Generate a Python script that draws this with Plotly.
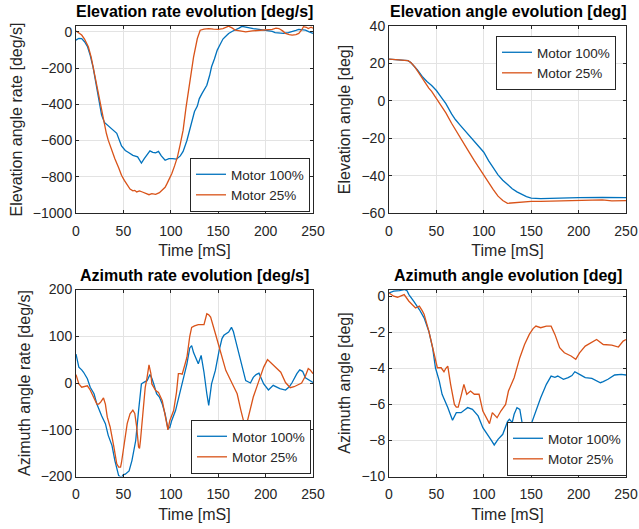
import plotly.graph_objects as go

# ---- data (time in mS) ----
# elevation rate [deg/s]
el_rate_t_100 = [0, 3, 6, 9, 12, 15, 18, 21, 24, 27, 30, 35, 38, 43, 48, 52, 55, 60, 65, 69, 72, 75, 78, 81, 84, 87,
                 90, 94, 98, 102, 106, 110, 113, 117, 121, 125, 128, 130, 133, 136, 138, 141, 143, 146, 149, 152, 155,
                 158, 161, 165, 168, 172, 175, 178, 182, 187, 193, 198, 203, 207, 210, 215, 219, 224, 228, 232, 235,
                 239, 242, 246, 250]
el_rate_100 = [-46, -36, -38, -55, -80, -130, -195, -280, -370, -460, -500, -522, -534, -560, -630, -655, -665, -682,
               -690, -724, -700, -681, -657, -665, -668, -660, -685, -709, -700, -700, -703, -685, -660, -600, -525,
               -440, -410, -370, -340, -310, -295, -240, -193, -150, -101, -70, -40, -25, -9, 3, 9, 20, 30, 26, 24,
               18, 13, 9, 9, 2, -5, -5, -9, -4, 0, 8, 13, 10, 9, 0, -9]
el_rate_t_25 = [0, 3, 6, 9, 13, 16, 18, 21, 24, 27, 29, 32, 34, 38, 41, 45, 48, 51, 54, 57, 60, 62, 64, 67, 70, 73, 77,
                80, 84, 88, 91, 94, 96, 99, 101, 104, 107, 110, 113, 116, 120, 124, 128, 131, 135, 140, 145, 150, 155,
                158, 161, 165, 168, 173, 179, 186, 193, 200, 207, 211, 214, 218, 221, 225, 228, 232, 235, 238, 240,
                243, 245, 248, 250]
el_rate_25 = [4, -5, -18, -40, -83, -140, -193, -275, -359, -440, -488, -560, -598, -660, -700, -750, -792, -820, -847,
              -868, -878, -875, -884, -878, -884, -890, -899, -893, -897, -888, -875, -858, -838, -810, -783, -740,
              -690, -620, -543, -420, -267, -140, -37, 9, 15, 18, 15, 13, 18, 25, 31, 20, 9, 5, 0, 5, 9, 10, 13, 20,
              18, 5, -9, -15, -18, -15, -9, 10, 28, 25, 18, 25, 20]

# elevation angle [deg]
el_ang_t_100 = [0, 5, 10, 15, 20, 23, 27, 30, 35, 40, 45, 48, 50, 55, 60, 66, 70, 75, 80, 84, 90, 95, 100, 105, 110,
                115, 120, 125, 130, 135, 140, 145, 150, 155, 160, 170, 180, 200, 225, 250]
el_ang_100 = [22.3, 22.2, 22, 21.8, 21.5, 20.5, 18.5, 16.5, 13, 10.3, 8.2, 6.5, 5.5, 2, -1.5, -7, -10, -13, -16, -18.5,
              -21.5, -25, -27.5, -32, -36, -39.6, -42.5, -45, -47, -48.7, -50, -51.2, -52, -52.2, -52.3, -52.2, -52,
              -51.8, -51.7, -51.8]
el_ang_t_25 = [0, 5, 10, 15, 20, 23, 27, 30, 35, 38, 42, 45, 48, 50, 55, 60, 66, 70, 75, 80, 84, 90, 95, 100, 105, 110,
               115, 120, 125, 130, 135, 140, 150, 160, 175, 190, 200, 215, 225, 235, 250]
el_ang_25 = [22.3, 22.2, 22, 21.8, 21.5, 20.5, 18.3, 16, 12, 9.6, 6.8, 5, 2.8, 1.5, -2.5, -6.5, -12, -15.5, -19.5, -24,
             -27, -32, -36, -40, -44, -47.5, -51, -53.3, -54.8, -54.6, -54.2, -54, -53.8, -53.8, -53.6, -53.4, -53.2,
             -53, -53, -53.5, -53.4]

# azimuth rate [deg/s]
az_rate_t_100 = [0, 3, 6, 8, 12, 15, 19, 22, 27, 31, 34, 38, 41, 45, 48, 50, 52, 56, 59, 63, 66, 69, 72, 75, 78, 80,
                 82, 85, 88, 91, 94, 97, 99, 101, 105, 108, 111, 113, 117, 120, 122, 124, 126, 129, 132, 135, 138, 140,
                 143, 147, 151, 154, 156, 161, 164, 166, 168, 173, 176, 179, 184, 187, 190, 193, 198, 203, 208, 212,
                 215, 221, 225, 228, 233, 236, 239, 242, 246, 250]
az_rate_100 = [62, 34, 28, 23, 9, -9, -23, -45, -70, -87, -112, -134, -166, -198, -202, -196, -195, -188, -166, -123,
               -59, -2, 2, 5, 18, 10, -2, -23, -30, -45, -66, -98, -95, -80, -59, -34, -10, 5, 41, 75, 80, 65, 55, 41,
               59, 23, -23, -48, -2, 27, 70, 95, 102, 109, 119, 110, 94, 52, 25, 5, 0, 12, 18, 21, -2, -15, -5, -10,
               -12, -15, -8, 1, 20, 28, 25, 11, 5, 1]
az_rate_t_25 = [0, 3, 6, 9, 12, 15, 17, 20, 22, 24, 26, 29, 31, 33, 36, 40, 43, 45, 47, 48, 50, 52, 54, 57, 60, 62, 64,
                66, 67, 68, 71, 73, 75, 77, 79, 80, 84, 87, 91, 94, 96, 97, 99, 103, 106, 108, 110, 112, 115, 117, 120,
                122, 125, 129, 135, 138, 140, 142, 147, 152, 158, 165, 170, 174, 178, 180, 182, 187, 193, 198, 202,
                205, 208, 212, 216, 221, 226, 230, 233, 238, 242, 245, 247, 250]
az_rate_25 = [18, -2, -9, -8, -6, -15, -23, -35, -45, -45, -41, -32, -45, -73, -94, -137, -173, -180, -180, -170, -144,
              -110, -87, -66, -58, -65, -94, -137, -140, -123, -45, -10, 12, 39, 20, -2, -16, -20, -38, -70, -94, -100,
              -80, -59, -20, 20, 20, 19, 40, 55, 100, 119, 122, 125, 125, 148, 146, 141, 106, 70, 27, -2, -23, -59,
              -91, -88, -73, -30, 5, 34, 50, 44, 37, 30, 23, 1, -10, -8, -5, 0, 15, 31, 28, 20]

# azimuth angle [deg]
az_ang_t_100 = [0, 5, 11, 16, 19, 21, 26, 29, 32, 37, 42, 46, 49, 53, 56, 62, 65, 67, 71, 76, 80, 83, 88, 94, 99, 104,
                108, 111, 115, 120, 125, 127, 130, 132, 135, 138, 141, 144, 147, 150, 155, 160, 166, 171, 175, 178,
                184, 189, 193, 196, 201, 207, 214, 219, 223, 226, 231, 238, 245, 250]
az_ang_100 = [0.18, 0.28, 0.31, 0.37, 0.3, 0.09, -0.28, -0.5, -0.74, -1.2, -1.94, -2.86, -3.97, -4.7, -5.44, -6.18,
              -6.6, -6.88, -6.46, -6.46, -6.3, -6.18, -6.28, -6.64, -7.29, -7.66, -8.0, -8.25, -7.94, -7.66, -6.96,
              -6.83, -7.0, -6.55, -6.18, -6.28, -7.2, -7.3, -7.25, -7.1, -6.37, -5.63, -4.89, -4.43, -4.5, -4.43,
              -4.61, -4.52, -4.4, -4.19, -4.34, -4.52, -4.56, -4.67, -4.8, -4.74, -4.61, -4.37, -4.34, -4.37]
az_ang_t_25 = [0, 5, 9, 13, 16, 21, 25, 28, 30, 32, 35, 37, 42, 48, 51, 55, 58, 60, 62, 65, 69, 71, 73, 76, 79, 82, 86,
               90, 95, 99, 102, 106, 109, 112, 114, 118, 123, 126, 129, 132, 138, 143, 148, 152, 155, 160, 166, 171,
               175, 180, 185, 192, 197, 201, 207, 214, 219, 226, 235, 242, 247, 250]
az_ang_25 = [0.18, 0.0, -0.06, 0.05, 0.09, -0.28, -0.5, -0.65, -0.6, -0.55, -0.8, -1.0, -1.94, -3.23, -3.97, -3.97,
             -4.19, -4.0, -3.88, -4.89, -6.0, -6.15, -6.15, -5.54, -4.89, -5.44, -5.26, -5.44, -5.44, -6.37, -6.64,
             -7.07, -6.46, -6.6, -6.74, -6.37, -6.0, -5.26, -4.9, -4.52, -3.41, -2.68, -2.12, -1.8, -1.66, -1.75,
             -1.66, -1.66, -2.12, -2.86, -3.14, -3.32, -3.5, -3.14, -2.77, -2.58, -2.4, -2.68, -2.71, -2.82, -2.49,
             -2.4]

BLUE = "#0072BD"
ORANGE = "#D95319"
INK = "#262626"
FONT = "Liberation Sans, Arial, sans-serif"

W, H = 639, 529
# plot boxes in pixels (left, right, top, bottom)
boxes = [(76, 313, 26, 213), (389, 626, 26, 213), (76, 313, 289.5, 476.5), (389, 626, 289.5, 476.5)]

panels = [
    ("Elevation rate evolution [deg/s]", "Elevation angle rate [deg/s]", [-1000, 32], 200,
     el_rate_t_100, el_rate_100, el_rate_t_25, el_rate_25),
    ("Elevation angle evolution [deg]", "Elevation angle [deg]", [-60, 40], 20,
     el_ang_t_100, el_ang_100, el_ang_t_25, el_ang_25),
    ("Azimuth rate evolution [deg/s]", "Azimuth angle rate [deg/s]", [-200, 200], 100,
     az_rate_t_100, az_rate_100, az_rate_t_25, az_rate_25),
    ("Azimuth angle evolution [deg]", "Azimuth angle [deg]", [-10, 0.37], 2,
     az_ang_t_100, az_ang_100, az_ang_t_25, az_ang_25),
]

# legend anchors (x, y, xanchor, yanchor) in pixels
legend_pos = [(310, 212, "right", "bottom"), (616, 36, "right", "top"),
              (311, 474, "right", "bottom"), (507, 476, "left", "bottom")]

fig = go.Figure()
layout = dict(width=W, height=H, margin=dict(l=0, r=0, t=0, b=0),
              paper_bgcolor="white", plot_bgcolor="white",
              font=dict(family=FONT, color=INK, size=14), annotations=[])

for i, (title, ylab, yr, dy, t1, v1, t2, v2) in enumerate(panels):
    n = "" if i == 0 else str(i + 1)
    lg = "legend" + n
    fig.add_trace(go.Scatter(x=t1, y=v1, mode="lines", name="Motor 100%", line=dict(color=BLUE, width=1.3),
                             xaxis="x" + n, yaxis="y" + n, legend=lg))
    fig.add_trace(go.Scatter(x=t2, y=v2, mode="lines", name="Motor 25%", line=dict(color=ORANGE, width=1.3),
                             xaxis="x" + n, yaxis="y" + n, legend=lg))
    l, r, t, b = boxes[i]
    axis_common = dict(showline=True, linecolor=INK, linewidth=1, mirror="ticks", ticks="inside", ticklen=3,
                       tickcolor=INK, showgrid=True, gridcolor="#e3e3e3", gridwidth=1, zeroline=False,
                       tickfont=dict(size=14, color=INK), automargin=False)
    layout["xaxis" + n] = dict(axis_common, domain=[l / W, r / W], range=[0, 250], dtick=50, tick0=0,
                               anchor="y" + n, ticklabelstandoff=5,
                               title=dict(text="Time [mS]", font=dict(size=16), standoff=7))
    layout["yaxis" + n] = dict(axis_common, domain=[1 - b / H, 1 - t / H], range=yr, dtick=dy, tick0=0,
                               anchor="x" + n, title=dict(text=ylab, font=dict(size=16), standoff=6))
    lx, ly, xa, ya = legend_pos[i]
    layout[lg] = dict(x=lx / W, y=1 - ly / H, xanchor=xa, yanchor=ya, bgcolor="white", bordercolor=INK,
                      borderwidth=1, font=dict(size=13.5, color=INK), tracegroupgap=0)
    layout["annotations"].append(dict(text="<b>" + title + "</b>", xref="paper", yref="paper",
                                      x=(l + r) / 2 / W, y=1 - (t - 14) / H, xanchor="center", yanchor="middle",
                                      showarrow=False, font=dict(size=16, color="black")))

fig.update_layout(**layout)
# drop the default page margin so the figure sits at the window's top-left corner
fig.write_html("out.html", config={"displayModeBar": False},
               post_script="document.body.style.margin='0';document.body.style.overflow='hidden';")
